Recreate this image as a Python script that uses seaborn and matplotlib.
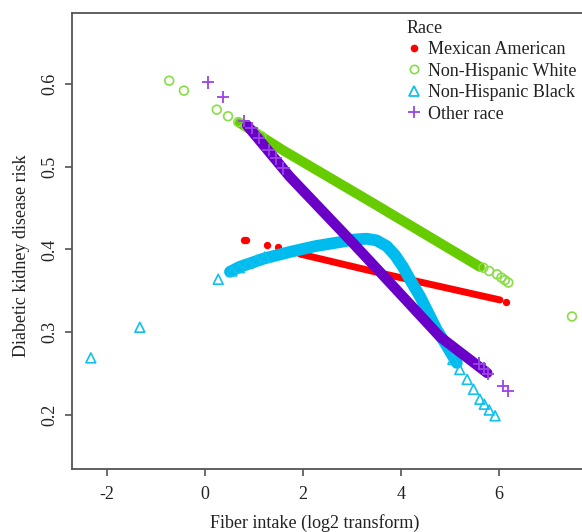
import matplotlib
matplotlib.use("Agg")
import matplotlib.pyplot as plt
from matplotlib.lines import Line2D
import seaborn as sns
import pandas as pd

# colours per group
races = ["Mexican American", "Non-Hispanic White", "Non-Hispanic Black", "Other race"]
colors = ["#ff0000", "#66cc00", "#00bbee", "#6a00c8"]
marker_colors = ["#ff0000", "#88dd44", "#11c0ee", "#9a44e6"]

# dense part of each predicted curve
mex_band_x = [1.94, 3.57, 6.02]
mex_band_y = [0.3945, 0.3716, 0.339]
white_band_x = [0.71, 1.59, 3.43, 5.61]
white_band_y = [0.553, 0.520, 0.456, 0.379]
black_band_x = [0.51, 0.71, 1.20, 1.73, 2.25, 2.76, 3.05, 3.30, 3.50, 3.71, 3.88, 4.04, 4.20, 4.39, 4.56, 4.73, 4.94, 5.14]
black_band_y = [0.373, 0.379, 0.389, 0.397, 0.404, 0.409, 0.412, 0.413, 0.411, 0.404, 0.393, 0.379, 0.362, 0.343, 0.323, 0.303, 0.283, 0.263]
other_band_x = [0.86, 1.73, 2.96, 3.78, 4.80, 5.76]
other_band_y = [0.550, 0.488, 0.4115, 0.3595, 0.2943, 0.2508]

# sparse points where single markers are visible
mex_x = [0.80, 0.84, 1.26, 1.49, 6.14]
mex_y = [0.412, 0.411, 0.405, 0.403, 0.336]
white_x = [-0.73, -0.43, 0.24, 0.47, 0.68, 0.85, 1.0, 1.15, 5.68, 5.80, 5.96, 6.05, 6.12, 6.19, 7.49]
white_y = [0.604, 0.592, 0.569, 0.561, 0.554, 0.548, 0.543, 0.537, 0.378, 0.374, 0.370, 0.366, 0.363, 0.360, 0.319]
black_x = [-2.33, -1.33, 0.27, 0.55, 0.70, 0.88, 1.05, 1.22, 5.06, 5.20, 5.35, 5.48, 5.61, 5.70, 5.80, 5.92]
black_y = [0.269, 0.306, 0.364, 0.374, 0.378, 0.383, 0.387, 0.391, 0.267, 0.255, 0.243, 0.231, 0.219, 0.213, 0.206, 0.199]
other_x = [0.06, 0.37, 0.80, 0.95, 1.10, 1.30, 1.45, 1.60, 5.60, 5.70, 5.78, 6.08, 6.18]
other_y = [0.602, 0.584, 0.555, 0.547, 0.535, 0.520, 0.510, 0.498, 0.262, 0.256, 0.250, 0.235, 0.229]

x_ticks = [-2, 0, 2, 4, 6]
y_ticks = [0.2, 0.3, 0.4, 0.5, 0.6]

sns.set_style("ticks")
plt.rcParams["font.family"] = ["Liberation Serif", "DejaVu Serif"]
plt.rcParams["font.size"] = 13

fig = plt.figure(figsize=(5.82, 5.32), dpi=100)
ax = fig.add_axes([72 / 582, 63 / 532, 519 / 582, 456 / 532])

bands = [(mex_band_x, mex_band_y, 5.0), (white_band_x, white_band_y, 7.2),
         (black_band_x, black_band_y, 8.5), (other_band_x, other_band_y, 7.5)]
points = [(mex_x, mex_y, "o", 28, 0), (white_x, white_y, "o", 40, 1.2),
          (black_x, black_y, "^", 50, 1.2), (other_x, other_y, "+", 80, 1.3)]

for i in range(4):
    bx, by, lw = bands[i]
    sns.lineplot(x=bx, y=by, color=colors[i], linewidth=lw, sort=False,
                 estimator=None, solid_capstyle="round", solid_joinstyle="round",
                 ax=ax, zorder=2 + i)
    px, py, m, s, ew = points[i]
    sns.scatterplot(x=px, y=py, marker=m, s=s, color=marker_colors[i],
                    linewidth=ew, ax=ax, zorder=2 + i)
    coll = ax.collections[-1]
    if i == 0:
        coll.set_facecolor(colors[0])
        coll.set_edgecolor(colors[0])
    else:
        coll.set_facecolor("none")
        coll.set_edgecolor(marker_colors[i])

ax.set_xlim(-2.714, 7.878)
ax.set_ylim(0.1347, 0.6858)
ax.set_xticks(x_ticks)
ax.set_xticklabels(["-2", "0", "2", "4", "6"])
ax.set_yticks(y_ticks)
ax.set_yticklabels(["0.2", "0.3", "0.4", "0.5", "0.6"], rotation=90, va="center")
ax.tick_params(direction="out", length=5, width=1.1, colors="#444444",
               labelcolor="#222222", labelsize=13)
ax.tick_params(axis="x", pad=7)
ax.tick_params(axis="y", pad=5)
for sp in ax.spines.values():
    sp.set_visible(True)
    sp.set_color("#555555")
    sp.set_linewidth(1.3)
ax.set_xlabel("")
ax.set_ylabel("")

fig.text(315 / 582, 1 - 523 / 532, "Fiber intake (log2 transform)", ha="center",
         va="center", fontsize=13, color="#222222")
fig.text(22 / 582, 1 - 256 / 532, "Diabetic kidney disease risk", ha="center",
         va="center", rotation=90, fontsize=13, color="#222222")

handles = [
    Line2D([], [], linestyle="none", marker="o", markersize=4.5, color=colors[0]),
    Line2D([], [], linestyle="none", marker="o", markersize=6, mfc="none",
           mec=marker_colors[1], mew=1.2),
    Line2D([], [], linestyle="none", marker="^", markersize=6.5, mfc="none",
           mec=marker_colors[2], mew=1.3),
    Line2D([], [], linestyle="none", marker="+", markersize=9, color=marker_colors[3],
           mew=1.3),
]
leg = fig.legend(handles, races, title="Race", loc="upper left",
                 bbox_to_anchor=(394 / 582, 1 - 7 / 532), frameon=False,
                 alignment="left", fontsize=13, title_fontsize=13,
                 handlelength=0.8, handletextpad=0.4, labelspacing=0.25,
                 borderpad=0.2)
for t in leg.get_texts():
    t.set_color("#222222")
leg.get_title().set_color("#222222")

fig.savefig("out.png", dpi=100)
